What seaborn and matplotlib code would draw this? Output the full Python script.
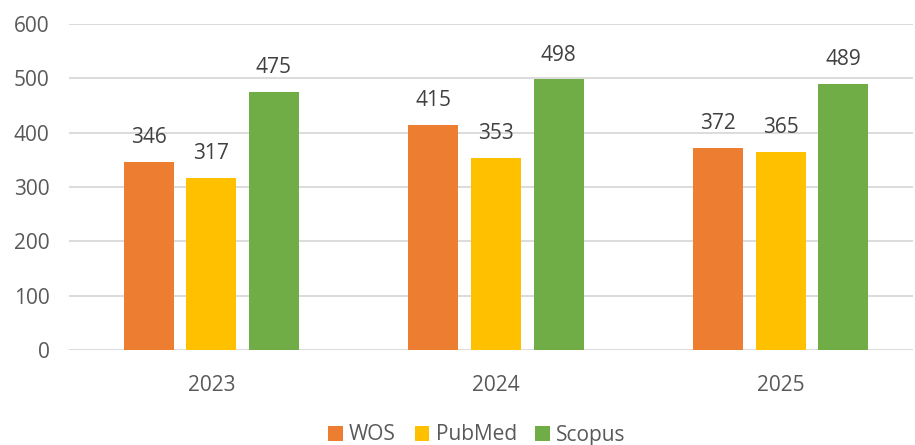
import pandas as pd
import matplotlib.pyplot as plt
import seaborn as sns

# === DATA ===
years = ["2023", "2024", "2025"]
sources = ["WOS", "PubMed", "Scopus"]
wos = [346, 415, 372]
pubmed = [317, 353, 365]
scopus = [475, 498, 489]
colors = {"WOS": "#ED7D31", "PubMed": "#FFC000", "Scopus": "#70AD47"}
y_ticks = [0, 100, 200, 300, 400, 500, 600]

df = pd.DataFrame({
    "year": years * 3,
    "source": ["WOS"] * 3 + ["PubMed"] * 3 + ["Scopus"] * 3,
    "count": wos + pubmed + scopus,
})

# === Plotting Setup ===
sns.set_theme(style="white")
plt.rcParams["font.family"] = ["Open Sans", "DejaVu Sans"]
text_color = "#595959"

fig = plt.figure(figsize=(9.15, 4.45), dpi=100)
ax = fig.add_axes([69 / 915, 95 / 445, (913 - 69) / 915, (421 - 95) / 445])

sns.barplot(data=df, x="year", y="count", hue="source", hue_order=sources,
            order=years, palette=colors, width=0.66, gap=0.2, saturation=1,
            errorbar=None, linewidth=0, ax=ax, zorder=3)

for cont in ax.containers:
    ax.bar_label(cont, padding=10, fontsize=15, color="#404040")

ax.set_ylim(0, 600)
ax.set_xlim(-0.5, 2.465)
ax.set_yticks(y_ticks)
ax.yaxis.grid(True, color="#D9D9D9", linewidth=1.3, zorder=0)
ax.set_axisbelow(True)
for s in ax.spines.values():
    s.set_visible(False)
ax.tick_params(axis="y", labelsize=15, labelcolor=text_color, length=0, pad=14)
ax.tick_params(axis="x", labelsize=15, labelcolor=text_color, length=0, pad=18)
ax.set_xlabel("")
ax.set_ylabel("")

ax.legend(loc="center", bbox_to_anchor=(477 / 915, 10 / 445),
          bbox_transform=fig.transFigure, ncol=3, frameon=False,
          fontsize=15, labelcolor=text_color, handlelength=0.7,
          handleheight=0.7, handletextpad=0.3, columnspacing=0.9)

fig.savefig("out.png", dpi=100)
